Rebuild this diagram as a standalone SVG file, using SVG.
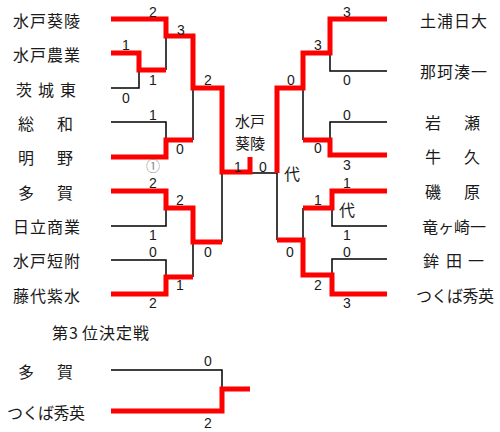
<svg xmlns="http://www.w3.org/2000/svg" width="500" height="432" viewBox="0 0 500 432">
<style>
.bg{fill:#fff}
.w{fill:none;stroke:#ff0000;stroke-width:5;stroke-linejoin:miter;stroke-linecap:butt}
.l{fill:none;stroke:#000;stroke-width:1.5}
.n{font-family:"Noto Sans CJK JP","Noto Sans",sans-serif;font-size:16px;fill:#1a1a1a;dominant-baseline:central}
.ch{font-family:"Noto Sans CJK JP","Noto Sans",sans-serif;font-size:15px;fill:#1a1a1a;dominant-baseline:central}
.s{font-family:"Liberation Sans",Arial,sans-serif;font-size:14px;fill:#1a1a1a;text-anchor:middle;dominant-baseline:central}
.c{font-family:"Noto Sans CJK JP",sans-serif;font-size:14px;fill:#8a8a8a;text-anchor:middle;dominant-baseline:central}
</style>
<rect class="bg" x="0" y="0" width="500" height="432"/>
<g id="connectors">
  <g id="black-lines">
    <polyline class="l" points="111,88 139,88 139,70"/>
    <polyline class="l" points="166,70 166,36"/>
    <polyline class="l" points="111,122 166,122 166,140"/>
    <polyline class="l" points="193,140 193,88"/>
    <polyline class="l" points="111,226 166,226 166,208"/>
    <polyline class="l" points="111,260 166,260 166,277"/>
    <polyline class="l" points="193,277 193,242"/>
    <polyline class="l" points="222,242 222,172"/>
    <polyline class="l" points="387,71 330,71 330,53"/>
    <polyline class="l" points="387,122 330,122 330,140"/>
    <polyline class="l" points="303,140 303,88"/>
    <polyline class="l" points="387,226 332,226 332,208"/>
    <polyline class="l" points="387,259 332,259 332,275"/>
    <polyline class="l" points="303,240 303,208"/>
    <polyline class="l" points="277,240 277,173 250,173"/>
    <polyline class="l" points="111,370 222,370 222,389"/>
  </g>
  <g id="red-lines">
    <polyline class="w" points="111,19 166,19 166,36 193,36 193,88 222,88 222,172 250,172 250,157"/>
    <polyline class="w" points="111,53 139,53 139,70 166,70"/>
    <polyline class="w" points="111,157 166,157 166,140 193,140"/>
    <polyline class="w" points="111,191 166,191 166,208 193,208 193,242 222,242"/>
    <polyline class="w" points="111,294 166,294 166,277 193,277"/>
    <polyline class="w" points="387,19 330,19 330,53 303,53 303,88 277,88 277,173"/>
    <polyline class="w" points="387,155 330,155 330,140 303,140"/>
    <polyline class="w" points="387,191 332,191 332,208 303,208"/>
    <polyline class="w" points="387,294 332,294 332,275 303,275 303,240 277,240"/>
    <polyline class="w" points="111,411 222,411 222,389 250,389"/>
  </g>
</g>
<g id="left-teams">
  <g id="t-mitokiryo"><text class="n" x="13 30 47 64" y="20">水戸葵陵</text></g>
  <g id="t-mitonogyo"><text class="n" x="13 30 47 64" y="54">水戸農業</text></g>
  <g id="t-ibarakihigashi"><text class="n" x="16 38 60" y="89">茨城東</text></g>
  <g id="t-sowa"><text class="n" x="18 57" y="123">総和</text></g>
  <g id="t-akeno"><text class="n" x="18 57" y="157">明野</text></g>
  <g id="t-taga"><text class="n" x="18 57" y="192">多賀</text></g>
  <g id="t-hitachishogyo"><text class="n" x="13 30 47 64" y="226">日立商業</text></g>
  <g id="t-mitotanfu"><text class="n" x="13 30 47 64" y="260">水戸短附</text></g>
  <g id="t-fujishiro"><text class="n" x="13 30 47 64" y="295">藤代紫水</text></g>
</g>
<g id="right-teams">
  <g id="t-tsuchiura"><text class="n" x="420 437 454 471" y="20">土浦日大</text></g>
  <g id="t-nakaminato"><text class="n" x="420 437 454 471" y="71">那珂湊一</text></g>
  <g id="t-iwase"><text class="n" x="425 464" y="122">岩瀬</text></g>
  <g id="t-ushiku"><text class="n" x="425 464" y="156">牛久</text></g>
  <g id="t-isohara"><text class="n" x="425 464" y="191">磯原</text></g>
  <g id="t-ryugasaki"><text class="n" x="422 438 454 470" y="226">竜ヶ崎一</text></g>
  <g id="t-hokota"><text class="n" x="423 446 468" y="260">鉾田一</text></g>
  <g id="t-tsukuba"><text class="n" x="416 431.5 447 462.5 478" y="295">つくば秀英</text></g>
</g>
<g id="champion"><text class="ch"><tspan x="235 250" y="119.5">水戸</tspan><tspan x="235 250" y="141.5">葵陵</tspan></text></g>
<g id="third-place">
  <text class="n" x="52 69 82 99 116 133" y="332">第3位決定戦</text>
  <g id="t3-taga"><text class="n" x="18 57" y="371">多賀</text></g>
  <g id="t3-tsukuba"><text class="n" x="7 22.5 38 53.5 69" y="412">つくば秀英</text></g>
</g>
<g id="scores">
  <text class="s" x="153" y="12">2</text>
  <text class="s" x="181" y="30">3</text>
  <text class="s" x="126" y="45">1</text>
  <text class="s" x="153" y="80">1</text>
  <text class="s" x="126" y="98">0</text>
  <text class="s" x="208" y="80">2</text>
  <text class="s" x="153" y="115">1</text>
  <text class="s" x="180" y="149">0</text>
  <text class="c" x="153" y="165">①</text>
  <text class="s" x="153" y="183">2</text>
  <text class="s" x="180" y="200">2</text>
  <text class="s" x="153" y="235">1</text>
  <text class="s" x="208" y="252">0</text>
  <text class="s" x="153" y="252">0</text>
  <text class="s" x="180" y="285">1</text>
  <text class="s" x="153" y="303">2</text>
  <text class="s" x="238" y="167">1</text>
  <text class="s" x="263" y="167">0</text>
  <text class="n" x="284" y="173">代</text>
  <text class="s" x="347" y="12">3</text>
  <text class="s" x="318" y="45">3</text>
  <text class="s" x="291" y="80">0</text>
  <text class="s" x="347" y="80">0</text>
  <text class="s" x="347" y="115">0</text>
  <text class="s" x="318" y="148">0</text>
  <text class="s" x="347" y="165">3</text>
  <text class="s" x="347" y="183">1</text>
  <text class="s" x="318" y="200">1</text>
  <text class="n" x="339" y="209">代</text>
  <text class="s" x="347" y="235">1</text>
  <text class="s" x="347" y="252">0</text>
  <text class="s" x="290" y="252">0</text>
  <text class="s" x="318" y="285">2</text>
  <text class="s" x="347" y="303">3</text>
  <text class="s" x="208" y="361">0</text>
  <text class="s" x="208" y="423">2</text>
</g>
</svg>
